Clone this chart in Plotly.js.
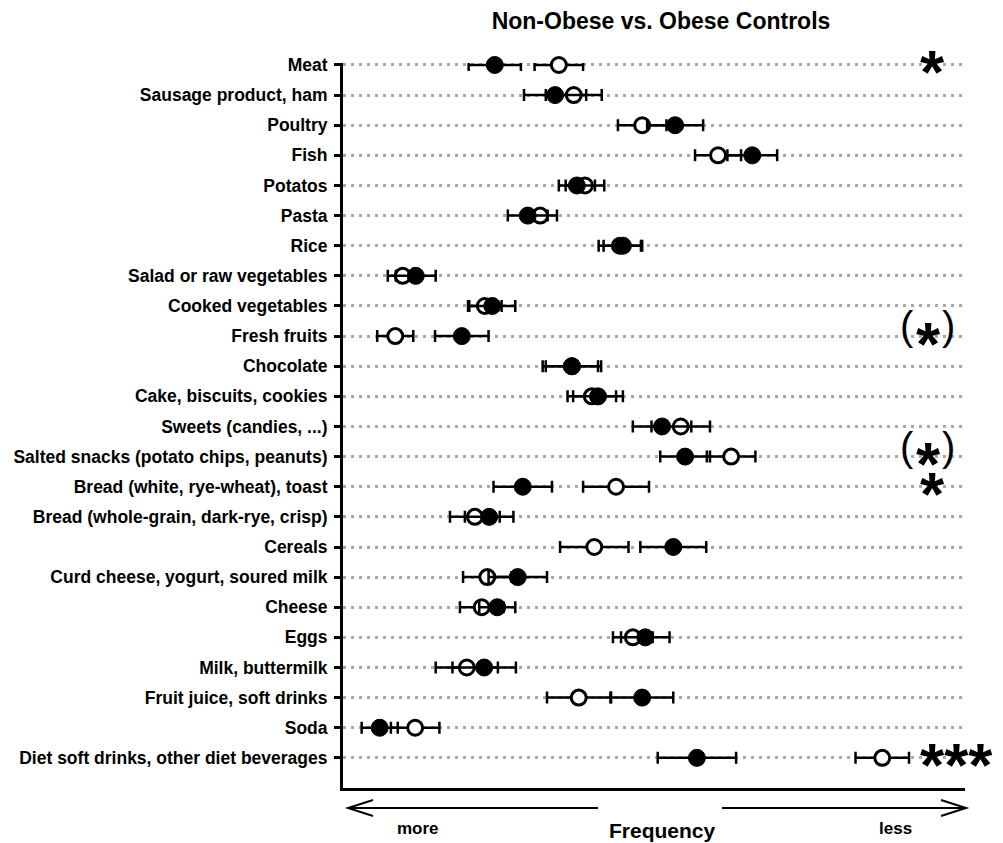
<!DOCTYPE html>
<html>
<head>
<meta charset="utf-8">
<script src="https://cdn.plot.ly/plotly-3.0.1.min.js"></script>
<style>
  html, body { margin: 0; padding: 0; background: #fff; }
  #chart { width: 1003px; height: 843px; }
</style>
</head>
<body>
<div id="chart"></div>
<script>
// Food items, top to bottom
const foods = [
  'Meat', 'Sausage product, ham', 'Poultry', 'Fish', 'Potatos', 'Pasta', 'Rice',
  'Salad or raw vegetables', 'Cooked vegetables', 'Fresh fruits', 'Chocolate',
  'Cake, biscuits, cookies', 'Sweets (candies, ...)',
  'Salted snacks (potato chips, peanuts)', 'Bread (white, rye-wheat), toast',
  'Bread (whole-grain, dark-rye, crisp)', 'Cereals',
  'Curd cheese, yogurt, soured milk', 'Cheese', 'Eggs', 'Milk, buttermilk',
  'Fruit juice, soft drinks', 'Soda', 'Diet soft drinks, other diet beverages'
];

// Mean frequency score (0 = more often, 100 = less often) and its error
const nonObeseMean = [34.7, 37.1, 48.1, 60.3, 38.9, 31.7, 44.5, 9.6, 22.8, 8.4, 36.8, 40.0,
                      54.3, 62.4, 43.9, 21.2, 40.4, 23.2, 22.3, 46.6, 19.9, 37.9, 11.6, 86.7];
const nonObeseErr  = [3.9, 4.5, 3.9, 3.7, 3.1, 2.7, 3.4, 2.4, 2.7, 2.9, 4.7, 3.9,
                      4.7, 3.9, 5.3, 4.0, 5.5, 3.9, 3.5, 3.2, 5.0, 5.1, 3.9, 4.3];
const obeseMean    = [24.4, 34.1, 53.4, 65.8, 37.6, 29.7, 45.0, 11.7, 24.0, 19.1, 36.8, 41.0,
                      51.3, 55.0, 28.9, 23.5, 53.1, 28.1, 24.8, 48.6, 22.7, 48.1, 5.9, 56.9];
const obeseErr     = [4.2, 5.0, 4.5, 4.0, 2.9, 3.2, 3.1, 3.2, 3.7, 4.3, 4.2, 4.0,
                      4.7, 4.0, 4.7, 3.9, 5.3, 4.7, 2.9, 3.9, 5.1, 5.0, 2.9, 6.3];

// Significance marks per food item
const significance = ['*', '', '', '', '', '', '', '', '', '(*)', '', '',
                      '', '(*)', '*', '', '', '', '', '', '', '', '', '***'];

const FONT = 'Liberation Sans, Arial, Helvetica, sans-serif';

const errStyle = { type: 'data', color: '#000', thickness: 2.5, width: 6 };

const traces = [
  {
    type: 'scatter', mode: 'markers', name: 'Non-obese controls',
    x: nonObeseMean, y: foods,
    error_x: Object.assign({ array: nonObeseErr }, errStyle),
    marker: { symbol: 'circle', size: 15, color: '#fff', line: { color: '#000', width: 3 } },
    cliponaxis: false, showlegend: false
  },
  {
    type: 'scatter', mode: 'markers', name: 'Obese controls',
    x: obeseMean, y: foods,
    error_x: Object.assign({ array: obeseErr }, errStyle),
    marker: { symbol: 'circle', size: 17, color: '#000', line: { color: '#000', width: 1 } },
    cliponaxis: false, showlegend: false
  }
];

// Significance annotations (stars, optionally in parentheses)
const starFont = { family: FONT, size: 62, color: '#000', weight: 'bold' };
const parenFont = { family: FONT, size: 40, color: '#000' };
const annotations = [];
significance.forEach((s, i) => {
  if (!s) return;
  const bracketed = s.startsWith('(');
  const stars = s.replace(/[()]/g, '');
  const cx = stars.length === 3 ? 98.6 : (bracketed ? 94.1 : 94.7);
  annotations.push({
    x: cx, y: foods[i], xref: 'x', yref: 'y', text: stars, showarrow: false,
    font: starFont, xanchor: 'center', yanchor: 'middle', yshift: -7
  });
  if (bracketed) {
    // parentheses sit just outside the star's own text box
    annotations.push(
      { x: cx, y: foods[i], xref: 'x', yref: 'y', text: '(', showarrow: false,
        font: parenFont, xanchor: 'right', yanchor: 'middle', xshift: -12, yshift: 10 },
      { x: cx, y: foods[i], xref: 'x', yref: 'y', text: ')', showarrow: false,
        font: parenFont, xanchor: 'left', yanchor: 'middle', xshift: 12, yshift: 10 }
    );
  }
});

// Frequency direction labels under the axis
annotations.push(
  { xref: 'paper', yref: 'paper', x: (418 - 343) / 622, y: -40 / 725, text: 'more', showarrow: false,
    font: { family: FONT, size: 17, color: '#000', weight: 'bold' }, xanchor: 'center', yanchor: 'middle' },
  { xref: 'paper', yref: 'paper', x: (662 - 343) / 622, y: -42 / 725, text: 'Frequency', showarrow: false,
    font: { family: FONT, size: 21, color: '#000', weight: 'bold' }, xanchor: 'center', yanchor: 'middle' },
  { xref: 'paper', yref: 'paper', x: (895 - 343) / 622, y: -40 / 725, text: 'less', showarrow: false,
    font: { family: FONT, size: 17, color: '#000', weight: 'bold' }, xanchor: 'center', yanchor: 'middle' }
);

// Arrows pointing to "more" (left) and "less" (right)
const px = X => (X - 343) / 622;
const py = Y => (788 - Y) / 725;
const arrowLine = { color: '#000', width: 2 };
const shapes = [
  { type: 'line', xref: 'paper', yref: 'paper', x0: px(349), x1: px(598), y0: py(808), y1: py(808), line: arrowLine },
  { type: 'path', xref: 'paper', yref: 'paper',
    path: `M ${px(373)} ${py(800)} L ${px(348)} ${py(808)} L ${px(373)} ${py(816)}`, line: arrowLine },
  { type: 'line', xref: 'paper', yref: 'paper', x0: px(722), x1: px(965), y0: py(808), y1: py(808), line: arrowLine },
  { type: 'path', xref: 'paper', yref: 'paper',
    path: `M ${px(941)} ${py(800)} L ${px(966)} ${py(808)} L ${px(941)} ${py(816)}`, line: arrowLine }
];

const layout = {
  width: 1003, height: 843,
  margin: { l: 343, r: 38, t: 63, b: 55, pad: 0 },
  paper_bgcolor: '#fff', plot_bgcolor: '#fff',
  title: {
    text: 'Non-Obese vs. Obese Controls',
    font: { family: FONT, size: 23, color: '#000', weight: 'bold' },
    x: 661 / 1003, xanchor: 'center', y: 1 - 21 / 843, yanchor: 'middle'
  },
  xaxis: {
    range: [0, 100], showgrid: false, zeroline: false, showticklabels: false, ticks: '',
    showline: true, linecolor: '#000', linewidth: 3, fixedrange: true
  },
  yaxis: {
    type: 'category', range: [24.0, -0.066],
    showgrid: true, gridcolor: '#a8a8a8', gridwidth: 3, griddash: '3px,5px',
    zeroline: false, showline: true, linecolor: '#000', linewidth: 3,
    ticks: 'outside', ticklen: 6, tickwidth: 3, tickcolor: '#000', ticklabelstandoff: 3,
    tickfont: { family: FONT, size: 17.5, color: '#000', weight: 'bold' },
    fixedrange: true
  },
  annotations: annotations,
  shapes: shapes
};

Plotly.newPlot('chart', traces, layout, { displayModeBar: false, staticPlot: true });
</script>
</body>
</html>
